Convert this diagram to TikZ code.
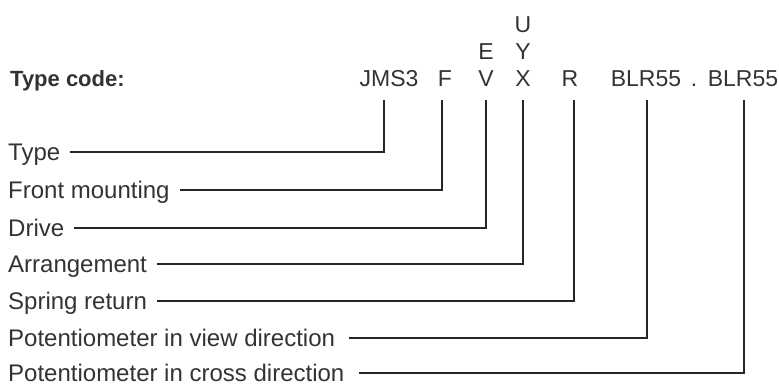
\documentclass[tikz,border=0pt]{standalone}
\usepackage{fontspec}
\setmainfont{Liberation Sans}
\usepackage{tikz}

\definecolor{txtgray}{HTML}{333333}
\definecolor{linegray}{HTML}{262626}

\tikzset{
  code/.style={anchor=base, inner sep=0pt, text=txtgray, font=\fontsize{23}{27}\selectfont},
  lbl/.style={anchor=west, inner sep=0pt, text height=17pt, text depth=0pt, text=txtgray, font=\fontsize{24}{28}\selectfont},
  lead/.style={draw=linegray, line width=1.2pt}
}

\begin{document}
\begin{tikzpicture}[x=1pt, y=-1pt]
            \useasboundingbox (0,0) rectangle (779,385);
            % heading and code
            \node[anchor=base west, inner sep=0pt, text=txtgray, font=\fontsize{22}{26}\selectfont\bfseries] (head) at (10,87) {Type code:};
            \node[code] (jms) at (389,87) {JMS3};
            \node[code] (f) at (445,87) {F};
            \node[code] (v) at (486,87) {V};
            \node[code] (e) at (486,60) {E};
            \node[code] (x) at (523,87) {X};
            \node[code] (y) at (523,60) {Y};
            \node[code] (u) at (523,33) {U};
            \node[code] (r) at (570,87) {R};
            \node[code] (blra) at (646,87) {BLR55};
            \node[code] (dot) at (694,87) {.};
            \node[code] (blrb) at (743,87) {BLR55};
            % labels
            \node[lbl] (type) at (8,152) {Type};
            \node[lbl] (front) at (8,190) {Front mounting};
            \node[lbl] (drive) at (8,228) {Drive};
            \node[lbl] (arr) at (8,264) {Arrangement};
            \node[lbl] (spring) at (8,301) {Spring return};
            \node[lbl] (potv) at (8,338) {Potentiometer in view direction};
            \node[lbl] (potc) at (8,373) {Potentiometer in cross direction};
            % leaders
            \draw[lead] ([xshift=-5pt,yshift=-13pt]jms.base) |- ([xshift=10pt]type.east);
            \draw[lead] ([xshift=-3pt,yshift=-13pt]f.base) |- ([xshift=10pt]front.east);
            \draw[lead] ([yshift=-13pt]v.base) |- ([xshift=10pt]drive.east);
            \draw[lead] ([yshift=-13pt]x.base) |- ([xshift=10pt]arr.east);
            \draw[lead] ([xshift=4pt,yshift=-13pt]r.base) |- ([xshift=10pt]spring.east);
            \draw[lead] ([xshift=1pt,yshift=-13pt]blra.base) |- ([xshift=14pt]potv.east);
            \draw[lead] ([xshift=1pt,yshift=-13pt]blrb.base) |- ([xshift=14pt]potc.east);
        \end{tikzpicture}
\end{document}
